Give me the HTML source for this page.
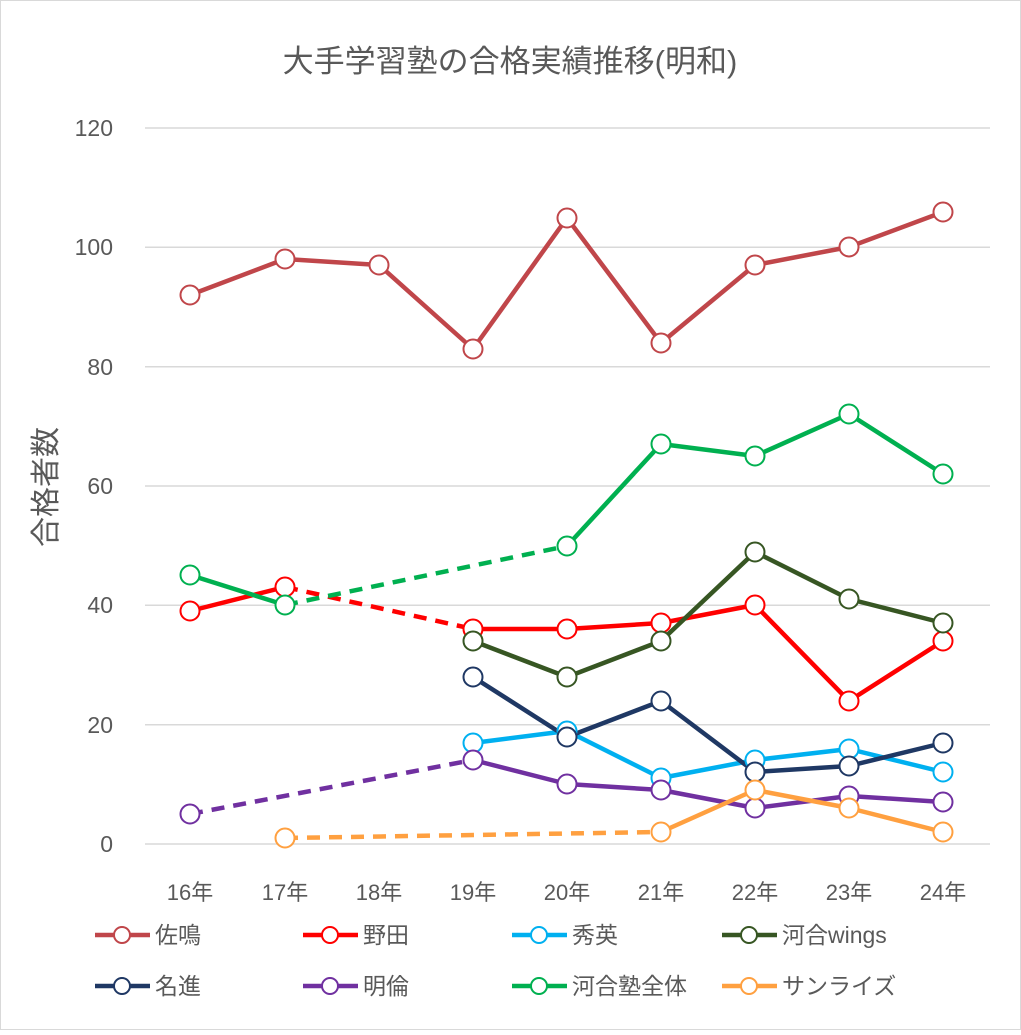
<!DOCTYPE html>
<html><head><meta charset="utf-8"><style>
body{margin:0;background:#fff}
svg text{font-family:"Liberation Sans","Noto Sans CJK JP",sans-serif;fill:#595959}
</style></head><body>
<svg width="1021" height="1030" viewBox="0 0 1021 1030" xmlns="http://www.w3.org/2000/svg">
<rect x="0.5" y="0.5" width="1020" height="1029" fill="#fff" stroke="#d9d9d9"/>
<text x="510" y="72" font-size="31" text-anchor="middle">大手学習塾の合格実績推移(明和)</text>
<g stroke="#d9d9d9" stroke-width="1.5">
<line x1="145" x2="990" y1="128" y2="128"/><line x1="145" x2="990" y1="247.3" y2="247.3"/>
<line x1="145" x2="990" y1="366.7" y2="366.7"/><line x1="145" x2="990" y1="486" y2="486"/>
<line x1="145" x2="990" y1="605.3" y2="605.3"/><line x1="145" x2="990" y1="724.7" y2="724.7"/>
<line x1="145" x2="990" y1="844" y2="844"/></g>
<g font-size="23" text-anchor="end">
<text x="113" y="136">120</text><text x="113" y="255">100</text><text x="113" y="375">80</text>
<text x="113" y="494">60</text><text x="113" y="613">40</text><text x="113" y="733">20</text><text x="113" y="852">0</text></g>
<g font-size="22" text-anchor="middle">
<text x="190" y="900">16年</text><text x="285" y="900">17年</text><text x="379" y="900">18年</text>
<text x="473" y="900">19年</text><text x="567" y="900">20年</text><text x="661" y="900">21年</text>
<text x="755" y="900">22年</text><text x="849" y="900">23年</text><text x="943" y="900">24年</text></g>
<text transform="translate(56,487) rotate(-90)" font-size="30" text-anchor="middle">合格者数</text>
<g fill="none" stroke-width="4.5" stroke-linejoin="round">
<polyline stroke="#c0464a" points="190,295 285,259 379,265 473,349 567,218 661,343 755,265 849,247 943,212"/>
<polyline stroke="#ff0000" points="190,611 285,587"/>
<polyline stroke="#ff0000" stroke-dasharray="13,9" points="285,587 473,629"/>
<polyline stroke="#ff0000" points="473,629 567,629 661,623 755,605 849,701 943,641"/>
<polyline stroke="#00b0f0" points="473,743 567,731 661,778 755,760 849,749 943,772"/>
<polyline stroke="#375623" points="473,641 567,677 661,641 755,552 849,599 943,623"/>
<polyline stroke="#1f3864" points="473,677 567,737 661,701 755,772 849,766 943,743"/>
<polyline stroke="#7030a0" stroke-dasharray="13,9" points="190,814 473,760"/>
<polyline stroke="#7030a0" points="473,760 567,784 661,790 755,808 849,796 943,802"/>
<polyline stroke="#00b050" points="190,575 285,605"/>
<polyline stroke="#00b050" stroke-dasharray="13,9" points="285,605 567,546"/>
<polyline stroke="#00b050" points="567,546 661,444 755,456 849,414 943,474"/>
<polyline stroke="#ffa040" stroke-dasharray="13,9" points="285,838 661,832"/>
<polyline stroke="#ffa040" points="661,832 755,790 849,808 943,832"/>
</g>
<g fill="#fff" stroke-width="2">
<g stroke="#c0464a"><circle cx="190" cy="295" r="9.5"/><circle cx="285" cy="259" r="9.5"/><circle cx="379" cy="265" r="9.5"/><circle cx="473" cy="349" r="9.5"/><circle cx="567" cy="218" r="9.5"/><circle cx="661" cy="343" r="9.5"/><circle cx="755" cy="265" r="9.5"/><circle cx="849" cy="247" r="9.5"/><circle cx="943" cy="212" r="9.5"/></g>
<g stroke="#ff0000"><circle cx="190" cy="611" r="9.5"/><circle cx="285" cy="587" r="9.5"/><circle cx="473" cy="629" r="9.5"/><circle cx="567" cy="629" r="9.5"/><circle cx="661" cy="623" r="9.5"/><circle cx="755" cy="605" r="9.5"/><circle cx="849" cy="701" r="9.5"/><circle cx="943" cy="641" r="9.5"/></g>
<g stroke="#00b0f0"><circle cx="473" cy="743" r="9.5"/><circle cx="567" cy="731" r="9.5"/><circle cx="661" cy="778" r="9.5"/><circle cx="755" cy="760" r="9.5"/><circle cx="849" cy="749" r="9.5"/><circle cx="943" cy="772" r="9.5"/></g>
<g stroke="#375623"><circle cx="473" cy="641" r="9.5"/><circle cx="567" cy="677" r="9.5"/><circle cx="661" cy="641" r="9.5"/><circle cx="755" cy="552" r="9.5"/><circle cx="849" cy="599" r="9.5"/><circle cx="943" cy="623" r="9.5"/></g>
<g stroke="#1f3864"><circle cx="473" cy="677" r="9.5"/><circle cx="567" cy="737" r="9.5"/><circle cx="661" cy="701" r="9.5"/><circle cx="755" cy="772" r="9.5"/><circle cx="849" cy="766" r="9.5"/><circle cx="943" cy="743" r="9.5"/></g>
<g stroke="#7030a0"><circle cx="190" cy="814" r="9.5"/><circle cx="473" cy="760" r="9.5"/><circle cx="567" cy="784" r="9.5"/><circle cx="661" cy="790" r="9.5"/><circle cx="755" cy="808" r="9.5"/><circle cx="849" cy="796" r="9.5"/><circle cx="943" cy="802" r="9.5"/></g>
<g stroke="#00b050"><circle cx="190" cy="575" r="9.5"/><circle cx="285" cy="605" r="9.5"/><circle cx="567" cy="546" r="9.5"/><circle cx="661" cy="444" r="9.5"/><circle cx="755" cy="456" r="9.5"/><circle cx="849" cy="414" r="9.5"/><circle cx="943" cy="474" r="9.5"/></g>
<g stroke="#ffa040"><circle cx="285" cy="838" r="9.5"/><circle cx="661" cy="832" r="9.5"/><circle cx="755" cy="790" r="9.5"/><circle cx="849" cy="808" r="9.5"/><circle cx="943" cy="832" r="9.5"/></g>
</g>
<g font-size="23">
<g transform="translate(95,935)"><line x1="0" x2="55" stroke="#c0464a" stroke-width="4.5"/><circle cx="27" r="8" fill="#fff" stroke="#c0464a" stroke-width="2"/><text x="60" y="8">佐鳴</text></g>
<g transform="translate(303,935)"><line x1="0" x2="55" stroke="#ff0000" stroke-width="4.5"/><circle cx="27" r="8" fill="#fff" stroke="#ff0000" stroke-width="2"/><text x="60" y="8">野田</text></g>
<g transform="translate(512,935)"><line x1="0" x2="55" stroke="#00b0f0" stroke-width="4.5"/><circle cx="27" r="8" fill="#fff" stroke="#00b0f0" stroke-width="2"/><text x="60" y="8">秀英</text></g>
<g transform="translate(722,935)"><line x1="0" x2="55" stroke="#375623" stroke-width="4.5"/><circle cx="27" r="8" fill="#fff" stroke="#375623" stroke-width="2"/><text x="60" y="8">河合wings</text></g>
<g transform="translate(95,986)"><line x1="0" x2="55" stroke="#1f3864" stroke-width="4.5"/><circle cx="27" r="8" fill="#fff" stroke="#1f3864" stroke-width="2"/><text x="60" y="8">名進</text></g>
<g transform="translate(303,986)"><line x1="0" x2="55" stroke="#7030a0" stroke-width="4.5"/><circle cx="27" r="8" fill="#fff" stroke="#7030a0" stroke-width="2"/><text x="60" y="8">明倫</text></g>
<g transform="translate(512,986)"><line x1="0" x2="55" stroke="#00b050" stroke-width="4.5"/><circle cx="27" r="8" fill="#fff" stroke="#00b050" stroke-width="2"/><text x="60" y="8">河合塾全体</text></g>
<g transform="translate(722,986)"><line x1="0" x2="55" stroke="#ffa040" stroke-width="4.5"/><circle cx="27" r="8" fill="#fff" stroke="#ffa040" stroke-width="2"/><text x="60" y="8">サンライズ</text></g>
</g>
</svg>
</body></html>
